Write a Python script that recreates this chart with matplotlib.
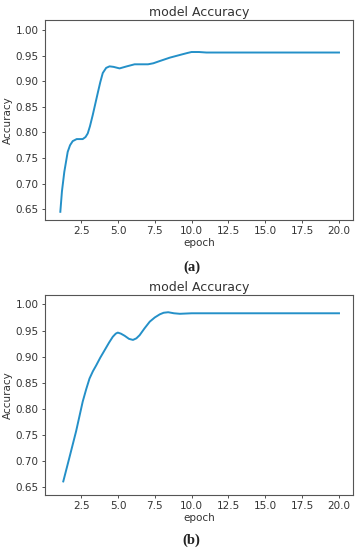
# 2つのモデルの学習精度（epoch別）を上下に並べて描くスクリプト

import matplotlib
matplotlib.use("Agg")
import matplotlib.pyplot as plt

# (a) の曲線
epoch_a = [1.09, 1.2, 1.36, 1.59, 1.75, 1.93, 2.2, 2.61, 2.8, 2.95, 3.1,
           3.29, 3.63, 3.8, 3.97, 4.2, 4.43, 4.7, 5.11, 5.6, 6.13, 6.6,
           7.04, 7.4, 7.8, 8.52, 9.3, 9.7, 9.99, 10.5, 11.0, 12.5, 15.0,
           17.5, 20.0]
acc_a = [0.645, 0.685, 0.723, 0.762, 0.775, 0.783, 0.787, 0.787, 0.791,
         0.798, 0.812, 0.834, 0.877, 0.898, 0.916, 0.926, 0.929, 0.928,
         0.925, 0.929, 0.933, 0.933, 0.933, 0.935, 0.939, 0.946, 0.952,
         0.955, 0.957, 0.957, 0.956, 0.956, 0.956, 0.956, 0.956]

# (b) の曲線
epoch_b = [1.29, 1.70, 2.16, 2.61, 2.85, 3.07, 3.3, 3.52, 3.8, 4.09, 4.4,
           4.65, 4.85, 4.99, 5.2, 5.45, 5.75, 6.02, 6.25, 6.47, 6.8, 7.16,
           7.5, 7.84, 8.1, 8.41, 8.8, 9.2, 10.0, 12.5, 15.0, 17.5, 20.0]
acc_b = [0.661, 0.706, 0.757, 0.814, 0.838, 0.858, 0.872, 0.883, 0.898,
         0.912, 0.927, 0.938, 0.944, 0.946, 0.944, 0.940, 0.934, 0.932,
         0.935, 0.941, 0.954, 0.967, 0.975, 0.981, 0.984, 0.985, 0.983,
         0.982, 0.983, 0.983, 0.983, 0.983, 0.983]

yticks = [0.65, 0.70, 0.75, 0.80, 0.85, 0.90, 0.95, 1.00]
xticks = [2.5, 5.0, 7.5, 10.0, 12.5, 15.0, 17.5, 20.0]

line_color = "#2490c8"
text_color = "#333333"

fig = plt.figure(figsize=(3.61, 5.5), dpi=100)

panels = [
    (epoch_a, acc_a, [45 / 361, 1 - 220 / 550, 308 / 361, 200 / 550],
     (0.629, 1.0195), "(a)", 1 - 267 / 550),
    (epoch_b, acc_b, [45 / 361, 1 - 495 / 550, 308 / 361, 200 / 550],
     (0.635, 1.018), "(b)", 1 - 540 / 550),
]

for ep, acc, rect, ylim, cap, cap_y in panels:
    ax = fig.add_axes(rect)
    ax.plot(ep, acc, color=line_color, linewidth=1.4,
            solid_joinstyle="round")
    ax.set_xlim(0.05, 20.95)
    ax.set_ylim(*ylim)
    ax.set_xticks(xticks)
    ax.set_yticks(yticks)
    ax.set_xticklabels([f"{t:.1f}" for t in xticks])
    ax.set_yticklabels([f"{t:.2f}" for t in yticks])
    ax.tick_params(labelsize=7.5, colors=text_color, length=2.5, width=0.6, pad=2)
    for s in ax.spines.values():
        s.set_color("#555555")
        s.set_linewidth(0.8)
    ax.set_title("model Accuracy", fontsize=9, color=text_color, pad=3)
    ax.set_xlabel("epoch", fontsize=7.5, color=text_color, labelpad=1)
    ax.set_ylabel("Accuracy", fontsize=7.5, color=text_color, labelpad=2)
    fig.text(rect[0] + rect[2] / 2 - 0.02, cap_y, cap, ha="center", va="center",
             fontsize=10.5, family="Liberation Serif", fontweight="bold",
             color="#222222")

fig.savefig("out.png", dpi=100)
